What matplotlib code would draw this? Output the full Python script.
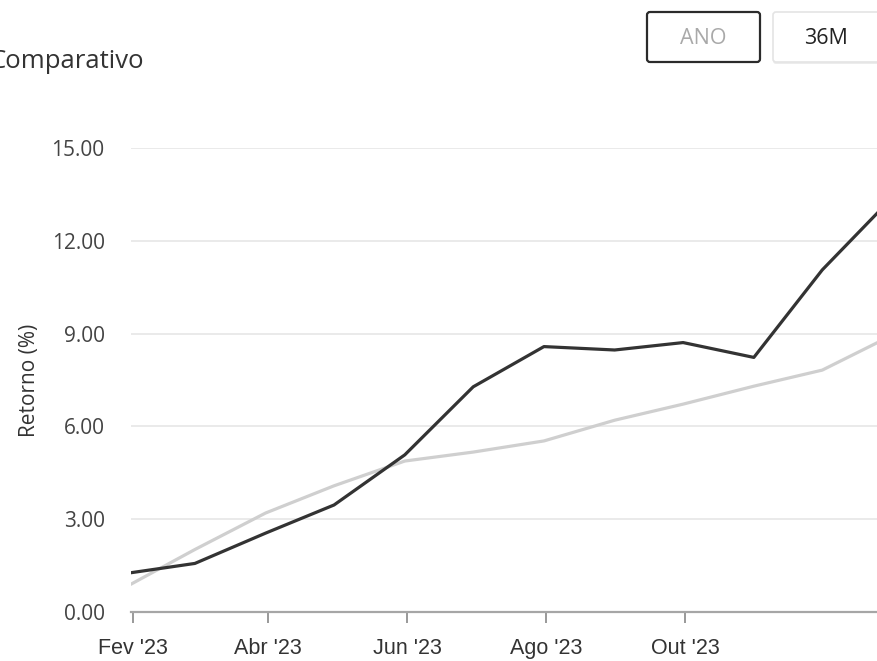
import matplotlib
matplotlib.use("Agg")
import matplotlib.pyplot as plt
import matplotlib.dates as mdates
from matplotlib.patches import FancyBboxPatch
from datetime import date

# Monthly cumulative returns (%), month-end observations
dates = ["2023-01-31", "2023-02-28", "2023-03-31", "2023-04-30", "2023-05-31", "2023-06-30",
         "2023-07-31", "2023-08-31", "2023-09-30", "2023-10-31", "2023-11-30", "2023-12-31"]
carteira = [1.27, 1.57, 2.55, 3.46, 5.08, 7.28, 8.58, 8.47, 8.71, 8.23, 11.06, 13.42]
benchmark = [0.90, 2.02, 3.20, 4.08, 4.88, 5.17, 5.53, 6.20, 6.72, 7.30, 7.82, 8.96]

tick_dates = ["2023-02-01", "2023-04-01", "2023-06-01", "2023-08-01", "2023-10-01"]
tick_labels = ["Fev '23", "Abr '23", "Jun '23", "Ago '23", "Out '23"]
y_ticks = [0, 3, 6, 9, 12, 15]

title = "Comparativo"
y_label = "Retorno (%)"
buttons = ["ANO", "36M"]

W, H = 877, 661


def to_date(s):
    y, m, d = map(int, s.split("-"))
    return date(y, m, d)


x = [to_date(d) for d in dates]
xt = [to_date(d) for d in tick_dates]

fig = plt.figure(figsize=(W / 100, H / 100), dpi=100)
fig.patch.set_facecolor("white")

# plot area in pixel units (left, bottom from top, right, top)
left_px, right_px = 131, 893
top_px, bottom_px = 148, 612
ax = fig.add_axes([left_px / W, (H - bottom_px) / H,
                   (right_px - left_px) / W, (bottom_px - top_px) / H])
ax.set_facecolor("white")

ax.plot(x, benchmark, color="#cfcfcf", lw=2.3, solid_joinstyle="round", zorder=3)
ax.plot(x, carteira, color="#333333", lw=2.3, solid_joinstyle="round", zorder=4)

ax.set_xlim(x[0], x[-1])
ax.set_ylim(0, 15)
ax.set_yticks(y_ticks)
ax.set_yticklabels([f"{v:.2f}" for v in y_ticks])
ax.set_xticks(mdates.date2num(xt))
ax.set_xticklabels(tick_labels)

for s in ["top", "right", "left"]:
    ax.spines[s].set_visible(False)
ax.spines["bottom"].set_color("#a6a6a6")
ax.spines["bottom"].set_linewidth(1.6)
ax.spines["bottom"].set_zorder(5)

ax.grid(axis="y", color="#e6e6e6", lw=1.2, zorder=1)
ax.grid(axis="x", visible=False)
ax.set_axisbelow(True)

ax.tick_params(axis="y", length=0, pad=19, labelsize=15, labelcolor="#444444")
ax.tick_params(axis="x", length=8, width=1.4, color="#999999", direction="out",
               pad=11, labelsize=15.5, labelcolor="#333333")
for lab in ax.get_yticklabels():
    lab.set_fontfamily("Open Sans")
for lab in ax.get_xticklabels():
    lab.set_fontfamily("Liberation Sans")

ax.set_ylabel(y_label, fontsize=15, family="Open Sans", color="#333333")
ax.yaxis.set_label_coords(-(131 - 40) / (right_px - left_px), 0.5)

# overlay in pixel coordinates for the header
ov = fig.add_axes([0, 0, 1, 1], zorder=10)
ov.set_xlim(0, W)
ov.set_ylim(H, 0)
ov.axis("off")
ov.patch.set_alpha(0)

ov.text(-11, 68, title, fontsize=18.5, family="Open Sans", color="#333333",
        ha="left", va="baseline")

b1 = FancyBboxPatch((647, 12), 113, 50, boxstyle="round,pad=0,rounding_size=3",
                    fc="white", ec="#2b2b2b", lw=1.6)
ov.add_patch(b1)
ov.text(703.5, 38, buttons[0], fontsize=15.5, family="Open Sans", color="#a9a9a9",
        ha="center", va="center")

shadow = FancyBboxPatch((773, 14), 130, 50, boxstyle="round,pad=0,rounding_size=3",
                        fc="#ececec", ec="none")
ov.add_patch(shadow)
b2 = FancyBboxPatch((773, 12), 130, 50, boxstyle="round,pad=0,rounding_size=3",
                    fc="white", ec="#e4e4e4", lw=1.2)
ov.add_patch(b2)
ov.text(826, 38, buttons[1], fontsize=15.5, family="Open Sans", color="#222222",
        ha="center", va="center")

fig.savefig("out.png", dpi=100, facecolor="white")
